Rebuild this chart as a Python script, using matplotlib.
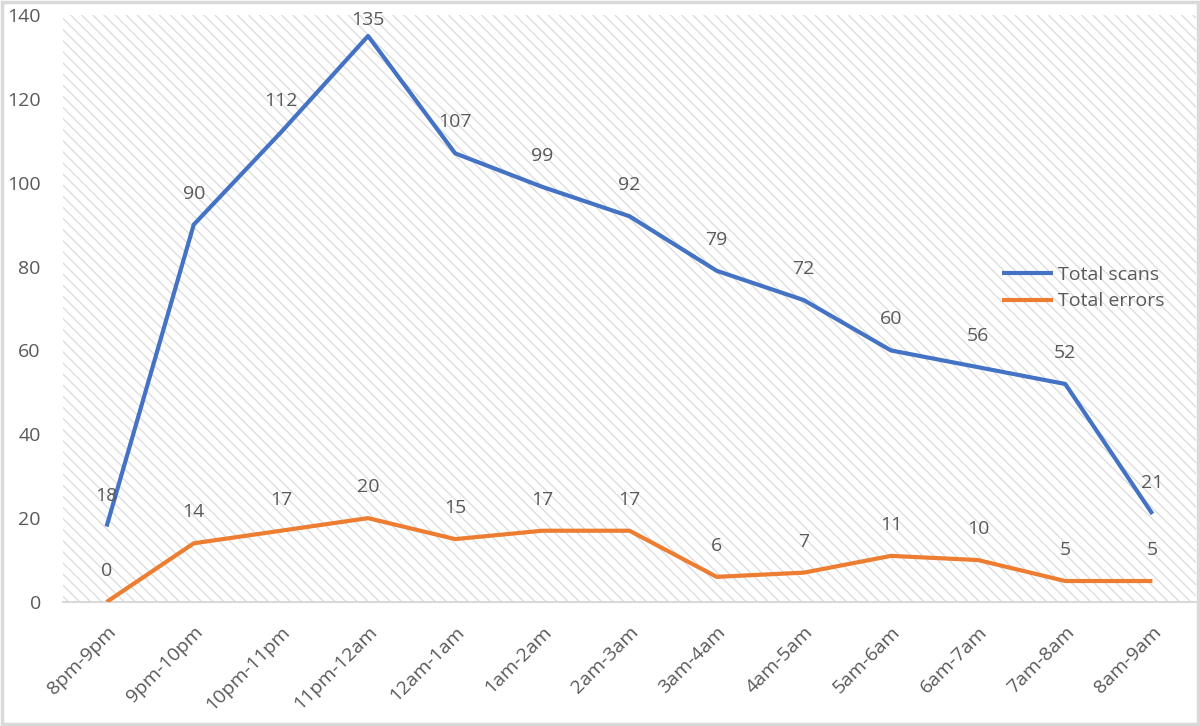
import matplotlib
matplotlib.use("Agg")
import matplotlib.pyplot as plt
from matplotlib.patches import Rectangle

categories = ["8pm-9pm", "9pm-10pm", "10pm-11pm", "11pm-12am", "12am-1am", "1am-2am",
              "2am-3am", "3am-4am", "4am-5am", "5am-6am", "6am-7am", "7am-8am", "8am-9am"]
total_scans = [18, 90, 112, 135, 107, 99, 92, 79, 72, 60, 56, 52, 21]
total_errors = [0, 14, 17, 20, 15, 17, 17, 6, 7, 11, 10, 5, 5]
y_ticks = [0, 20, 40, 60, 80, 100, 120, 140]

plt.rcParams['font.family'] = ['Open Sans', 'DejaVu Sans']
plt.rcParams['hatch.linewidth'] = 1.0
text_color = '#595959'
FS = 14

W, H = 1200, 726
fig = plt.figure(figsize=(W / 100, H / 100), dpi=100)
ax = fig.add_axes([63/W, 1 - 602/H, (1196 - 63)/W, (602 - 15)/H])

# hatched background
bg = Rectangle((0, 0), 1, 1, transform=ax.transAxes, facecolor='white',
               edgecolor='#dedede', hatch='\\\\\\', linewidth=0, zorder=0)
ax.add_patch(bg)

x = list(range(len(categories)))
ax.plot(x, total_scans, color='#4472C4', lw=3, label='Total scans', zorder=3,
        solid_capstyle='butt', solid_joinstyle='round')
ax.plot(x, total_errors, color='#ED7D31', lw=3, label='Total errors', zorder=3,
        solid_capstyle='butt', solid_joinstyle='round')

ax.set_xlim(-0.5, len(categories) - 0.5)
ax.set_ylim(0, 140)

def add_labels(values):
    for xi, v in zip(x, values):
        # keep label inside the chart: compute pixel distance to top
        _, py = ax.transData.transform((xi, v))
        dist_top_px = H - py
        off_px = min(31, dist_top_px - 20)
        ax.annotate(str(v), (xi, v), xytext=(0, off_px * 0.72), textcoords='offset points',
                    ha='center', va='center', fontsize=FS, color=text_color, zorder=4)

add_labels(total_scans)
add_labels(total_errors)

ax.set_yticks(y_ticks)
ax.set_yticklabels([str(t) for t in y_ticks])
ax.set_xticks(x)
ax.set_xticklabels(categories, rotation=45, ha='right', rotation_mode='anchor')
ax.tick_params(axis='y', length=0, pad=16, labelsize=FS, labelcolor=text_color)
ax.tick_params(axis='x', length=0, pad=15, labelsize=FS, labelcolor=text_color)

for s in ['top', 'right', 'left']:
    ax.spines[s].set_visible(False)
ax.spines['bottom'].set_color('#d9d9d9')
ax.spines['bottom'].set_linewidth(1.5)
ax.spines['bottom'].set_zorder(2)

leg = ax.legend(loc='center left', bbox_to_anchor=(0.829, 0.535), frameon=False,
                fontsize=FS, handlelength=2.6, handletextpad=0.26, labelspacing=0.45,
                borderpad=0, borderaxespad=0, labelcolor=text_color)

# outer border
fig.patches.append(Rectangle((0.0015, 0.0025), 0.997, 0.995, transform=fig.transFigure,
                             fill=False, edgecolor='#d9d9d9', linewidth=2.5))

fig.savefig('out.png', dpi=100)
